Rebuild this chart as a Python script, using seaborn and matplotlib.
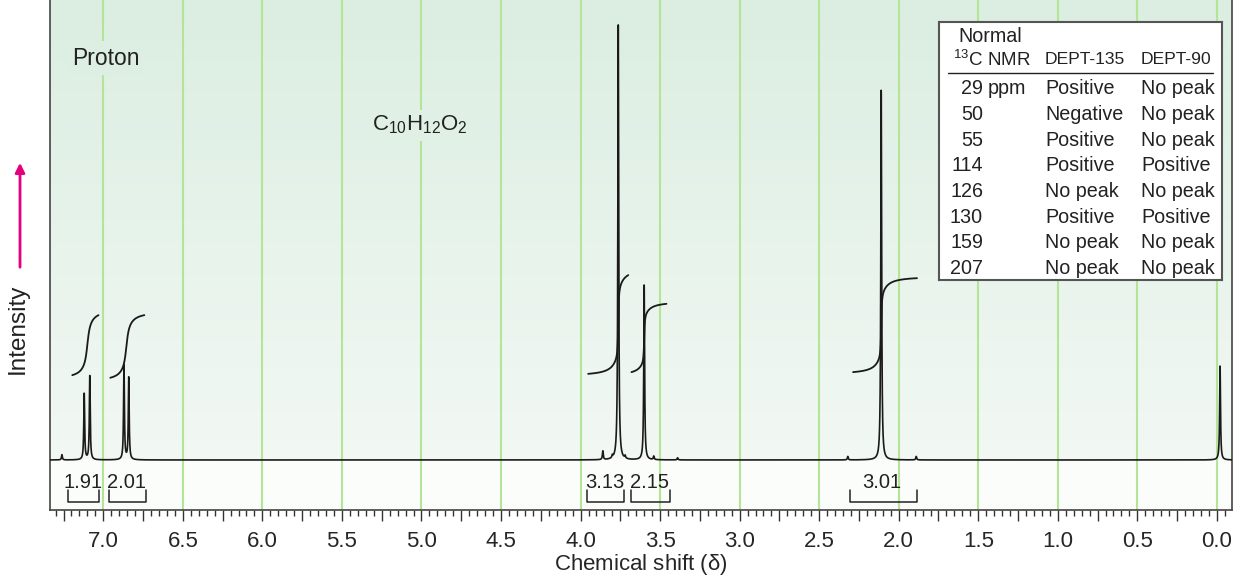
import numpy as np
import seaborn as sns
import matplotlib.pyplot as plt
from matplotlib.ticker import MultipleLocator, FuncFormatter

# Peak list (ppm, relative height)
peak_ppm = [7.26, 7.12, 7.085, 6.87, 6.84, 3.86, 3.80, 3.763, 3.72, 3.60, 3.54, 3.39, 2.32, 2.11, 1.89, -0.02]
peak_height = [1.2, 15.2, 19.3, 21.8, 18.9, 2.0, 0.6, 100, 0.6, 40.2, 0.8, 0.5, 0.8, 85, 0.8, 21.6]
line_width = 0.0032

# Integration regions
int_start = [7.195, 6.956, 3.952, 3.680, 2.287]
int_end = [7.030, 6.742, 3.700, 3.460, 1.885]
int_center = [7.10, 6.855, 3.763, 3.60, 2.11]
int_sharp = [0.012, 0.012, 0.003, 0.003, 0.003]
int_low = [19.5, 18.9, 19.8, 20.2, 20.2]
int_high = [33.3, 33.3, 42.5, 35.9, 41.8]
int_labels = ['1.91', '2.01', '3.13', '2.15', '3.01']
label_ppm = [7.126, 6.855, 3.845, 3.569, 2.105]
bracket_left = [7.22, 6.962, 3.958, 3.68, 2.306]
bracket_right = [7.025, 6.73, 3.725, 3.44, 1.885]

# 13C / DEPT table
c13_shift = ['29', '50', '55', '114', '126', '130', '159', '207']
dept135 = ['Positive', 'Negative', 'Positive', 'Positive', 'No peak', 'Positive', 'No peak', 'No peak']
dept90 = ['No peak', 'No peak', 'No peak', 'Positive', 'No peak', 'Positive', 'No peak', 'No peak']

W, H = 1233, 575
sns.set_style('ticks')
plt.rcParams['font.family'] = ['Liberation Sans', 'DejaVu Sans']
plt.rcParams['mathtext.fontset'] = 'custom'
plt.rcParams['mathtext.rm'] = 'Liberation Sans'
plt.rcParams['mathtext.it'] = 'Liberation Sans:italic'
plt.rcParams['mathtext.default'] = 'rm'

fig = plt.figure(figsize=(W / 100, H / 100), dpi=100)
ax = fig.add_axes([50 / W, 65 / H, 1182 / W, 510 / H])
xlim = (7.335, -0.095)
ylim = (-11.5, 105.75)
ax.set_xlim(*xlim)
ax.set_ylim(*ylim)

# background gradient (green at top fading to white)
top_c = np.array([219, 238, 225]) / 255
mid_c = np.array([242, 248, 244]) / 255
bot_c = np.array([251, 253, 251]) / 255
yy = np.linspace(ylim[0], ylim[1], 400)
t = np.clip(yy / ylim[1], 0, 1)[:, None]
grad = mid_c + (top_c - mid_c) * t
grad[yy < 0] = bot_c
ax.imshow(grad[:, None, :], extent=[xlim[0], xlim[1], ylim[0], ylim[1]],
          origin='lower', aspect='auto', zorder=0)

for g in np.arange(0, 7.01, 0.5):
    ax.axvline(g, color='#b4e496', lw=1.5, zorder=1)

# spectrum built from Lorentzian lines
ppm = np.linspace(xlim[0], xlim[1], 30000)
spec = np.zeros_like(ppm)
for p, h in zip(peak_ppm, peak_height):
    spec += h * line_width ** 2 / ((ppm - p) ** 2 + line_width ** 2)
sns.lineplot(x=ppm, y=spec, ax=ax, color='#1a1a1a', lw=1.2, estimator=None, sort=False, zorder=3)

# integral curves
def step_shape(x, c, g):
    sharp = 0.5 + np.arctan((c - x) / g) / np.pi
    broad = 0.5 + np.arctan((c - x) / 0.04) / np.pi
    return 0.7 * sharp + 0.3 * broad

for s, e, c, g, lo, hi in zip(int_start, int_end, int_center, int_sharp, int_low, int_high):
    xs = np.linspace(s, e, 800)
    sh = step_shape(xs, c, g)
    sh = (sh - sh[0]) / (sh[-1] - sh[0])
    ax.plot(xs, lo + (hi - lo) * sh, color='#1a1a1a', lw=1.3, zorder=4)

# integration values and brackets
for lab, lp, bl, br in zip(int_labels, label_ppm, bracket_left, bracket_right):
    ax.text(lp, -5.1, lab, ha='center', va='center', fontsize=14.5, color='#222', zorder=5)
    ax.plot([bl, bl, br, br], [-6.9, -9.7, -9.7, -6.9], color='#222', lw=1.1, zorder=5)

ax.text(7.195, 92.4, 'Proton', ha='left', va='center', fontsize=16.5, color='#222',
        bbox=dict(facecolor='#ddefe3', edgecolor='none', pad=4), zorder=5)
ax.text(5.31, 77.0, r'C$_{10}$H$_{12}$O$_{2}$', ha='left', va='center', fontsize=16, color='#222',
        bbox=dict(facecolor='#e0f0e5', edgecolor='none', pad=3), zorder=5)

# axes styling
ax.xaxis.set_major_locator(MultipleLocator(0.25))
ax.xaxis.set_minor_locator(MultipleLocator(0.05))
ax.xaxis.set_major_formatter(FuncFormatter(
    lambda v, pos: f'{abs(v):.1f}' if abs(v * 2 - round(v * 2)) < 1e-6 else ''))
ax.tick_params(axis='x', which='major', length=8, width=1, color='#333', labelsize=16, pad=7)
ax.tick_params(axis='x', which='minor', length=4, width=1, color='#333')
ax.set_yticks([])
ax.spines['top'].set_visible(False)
for sp in ['left', 'right', 'bottom']:
    ax.spines[sp].set_color('#444')
    ax.spines[sp].set_linewidth(1.2)
ax.set_xlabel(r'Chemical shift ($\delta$)', fontsize=16, labelpad=0)
ax.set_ylabel('')

fig.text(18 / W, 1 - 329 / H, 'Intensity', rotation=90, ha='center', va='center', fontsize=17.5, color='#222')
ax.annotate('', xy=(20 / W, 1 - 160 / H), xytext=(20 / W, 1 - 270 / H),
            xycoords='figure fraction', textcoords='figure fraction', annotation_clip=False,
            arrowprops=dict(arrowstyle='-|>', color='#e5007d', lw=2, mutation_scale=14))

# 13C table
tax = fig.add_axes([939 / W, 1 - 280 / H, 283 / W, 258 / H])
tax.set_xlim(939, 1222)
tax.set_ylim(280, 22)
tax.set_xticks([])
tax.set_yticks([])
tax.set_facecolor('white')
for sp in tax.spines.values():
    sp.set_color('#555')
    sp.set_linewidth(1.5)
fs = 14.2
hs = 12.6
tax.text(958, 37, 'Normal', ha='left', va='center', fontsize=fs, color='#222')
tax.text(953, 60, r'$^{13}$C NMR', ha='left', va='center', fontsize=13.5, color='#222')
tax.text(1045, 60, 'DEPT-135', ha='left', va='center', fontsize=hs, color='#222')
tax.text(1141, 60, 'DEPT-90', ha='left', va='center', fontsize=hs, color='#222')
tax.plot([948, 1213], [73, 73], color='#222', lw=1)
for i, (c, d1, d2) in enumerate(zip(c13_shift, dept135, dept90)):
    y = 89 + i * 25.6
    tax.text(983, y, c, ha='right', va='center', fontsize=fs, color='#222')
    tax.text(1045, y, d1, ha='left', va='center', fontsize=fs, color='#222')
    tax.text(1141, y, d2, ha='left', va='center', fontsize=fs, color='#222')
    if i == 0:
        tax.text(988, y, 'ppm', ha='left', va='center', fontsize=fs, color='#222')

fig.savefig('out.png', dpi=100)
